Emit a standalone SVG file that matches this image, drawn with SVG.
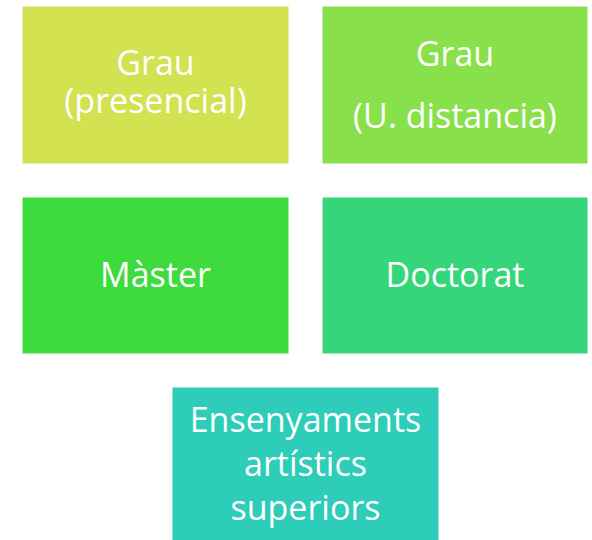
<svg xmlns="http://www.w3.org/2000/svg" width="592" height="540" viewBox="0 0 592 540">
<style>
.box{stroke:#ffffff;stroke-width:1}
.t{font-family:"Open Sans","Liberation Sans",sans-serif;font-size:34px;fill:#ffffff;text-anchor:middle}
</style>
<rect width="592" height="540" fill="#ffffff"/>
<g id="grau-presencial">
<rect class="box" x="22" y="6" width="267" height="158" fill="#D2E250"/>
<text class="t" x="155.5" y="75">Grau</text>
<text class="t" x="155.5" y="113">(presencial)</text>
</g>
<g id="grau-distancia">
<rect class="box" x="322" y="6" width="266" height="158" fill="#88E04A"/>
<text class="t" x="455" y="66">Grau</text>
<text class="t" x="455" y="128">(U. distancia)</text>
</g>
<g id="master">
<rect class="box" x="22" y="197" width="267" height="157" fill="#3DDB3D"/>
<text class="t" x="155.5" y="287">Màster</text>
</g>
<g id="doctorat">
<rect class="box" x="322" y="197" width="266" height="157" fill="#35D67A"/>
<text class="t" x="455" y="287">Doctorat</text>
</g>
<g id="ensenyaments">
<rect class="box" x="172" y="387" width="267" height="160" fill="#2ECDB9"/>
<text class="t" x="305.5" y="432">Ensenyaments</text>
<text class="t" x="305.5" y="476">artístics</text>
<text class="t" x="305.5" y="520">superiors</text>
</g>
<g id="connectors"/>
</svg>
